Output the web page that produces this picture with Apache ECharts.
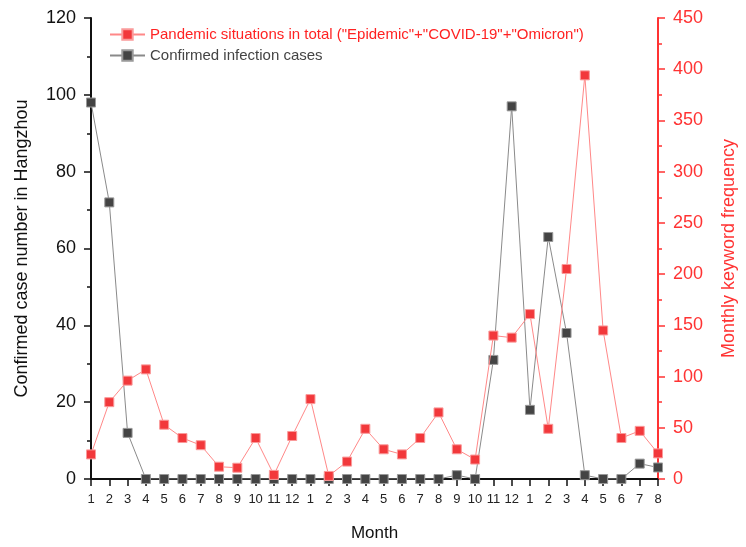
<!DOCTYPE html>
<html>
<head>
<meta charset="utf-8">
<script src="https://cdn.jsdelivr.net/npm/echarts@6/dist/echarts.min.js"></script>
<style>
  html, body { margin: 0; padding: 0; background: #fff; }
  #chart { width: 746px; height: 547px; }
</style>
</head>
<body>
<div id="chart"></div>
<script>
  // months, Jan 2020 .. Aug 2022
  var months = ['1','2','3','4','5','6','7','8','9','10','11','12',
                '1','2','3','4','5','6','7','8','9','10','11','12',
                '1','2','3','4','5','6','7','8']
  // monthly keyword frequency (right axis)
  var keywordFreq = [24, 75, 96, 107, 53, 40, 33, 12, 11, 40, 4, 42,
                     78, 3, 17, 49, 29, 24, 40, 65, 29, 19, 140, 138,
                     161, 49, 205, 394, 145, 40, 47, 25]
  // confirmed cases in Hangzhou (left axis)
  var confirmedCases = [98, 72, 12, 0, 0, 0, 0, 0, 0, 0, 0, 0,
                        0, 0, 0, 0, 0, 0, 0, 0, 1, 0, 31, 97,
                        18, 63, 38, 1, 0, 0, 4, 3]

  var redName = 'Pandemic situations in total ("Epidemic"+"COVID-19"+"Omicron")'
  var blackName = 'Confirmed infection cases'

  var chart = echarts.init(document.getElementById('chart'))
  var font = 'Liberation Sans, Arial, sans-serif'

  var option = {
    animation: false,
    backgroundColor: '#fff',
    textStyle: { fontFamily: font },
    grid: { left: 91, right: 79, top: 18, bottom: 61, containLabel: false },
    legend: {
      left: 104,
      top: 22,
      orient: 'vertical',
      itemWidth: 35,
      itemHeight: 13,
      itemGap: 6,
      data: [
        { name: redName, textStyle: { color: '#f22' } },
        { name: blackName, textStyle: { color: '#444' } }
      ],
      textStyle: { fontSize: 15, fontFamily: font }
    },
    xAxis: {
      type: 'category',
      boundaryGap: false,
      data: months,
      name: 'Month',
      nameLocation: 'middle',
      nameGap: 46,
      nameTextStyle: { fontSize: 17, color: '#111' },
      axisLine: { lineStyle: { color: '#111', width: 2 } },
      axisTick: { show: true, length: 7, interval: 0, lineStyle: { color: '#111', width: 1.5 } },
      axisLabel: { interval: 0, fontSize: 13, color: '#222', margin: 14 },
      splitLine: { show: false }
    },
    yAxis: [{
      type: 'value',
      min: 0,
      max: 120,
      interval: 20,
      position: 'left',
      name: 'Confirmed case number in Hangzhou',
      nameLocation: 'middle',
      nameGap: 60,
      nameTextStyle: { fontSize: 18, color: '#111' },
      axisLine: { show: true, lineStyle: { color: '#111', width: 2 } },
      axisTick: { show: true, length: 7, lineStyle: { color: '#111', width: 1.5 } },
      minorTick: { show: true, splitNumber: 2, length: 4, lineStyle: { color: '#111', width: 1.5 } },
      axisLabel: { fontSize: 18, color: '#111', margin: 15 },
      splitLine: { show: false }
    }, {
      type: 'value',
      min: 0,
      max: 450,
      interval: 50,
      position: 'right',
      name: 'Monthly keyword frequency',
      nameLocation: 'middle',
      nameGap: 62,
      nameTextStyle: { fontSize: 18, color: '#f33' },
      axisLine: { show: true, lineStyle: { color: '#f33', width: 2 } },
      axisTick: { show: true, length: 7, lineStyle: { color: '#f33', width: 1.5 } },
      minorTick: { show: true, splitNumber: 2, length: 4, lineStyle: { color: '#f33', width: 1.5 } },
      axisLabel: { fontSize: 18, color: '#f33', margin: 15 },
      splitLine: { show: false }
    }],
    series: [{
      name: redName,
      type: 'line',
      yAxisIndex: 1,
      data: keywordFreq,
      symbol: 'rect',
      symbolSize: 9,
      showAllSymbol: true,
      itemStyle: { color: '#f2383b', borderColor: '#fa9a9a', borderWidth: 1 },
      lineStyle: { color: '#f88', width: 1 },
      z: 3
    }, {
      name: blackName,
      type: 'line',
      yAxisIndex: 0,
      data: confirmedCases,
      symbol: 'rect',
      symbolSize: 9,
      showAllSymbol: true,
      itemStyle: { color: '#444', borderColor: '#999', borderWidth: 1 },
      lineStyle: { color: '#8a8a8a', width: 1 },
      z: 2
    }]
  }
  chart.setOption(option)
</script>
</body>
</html>
